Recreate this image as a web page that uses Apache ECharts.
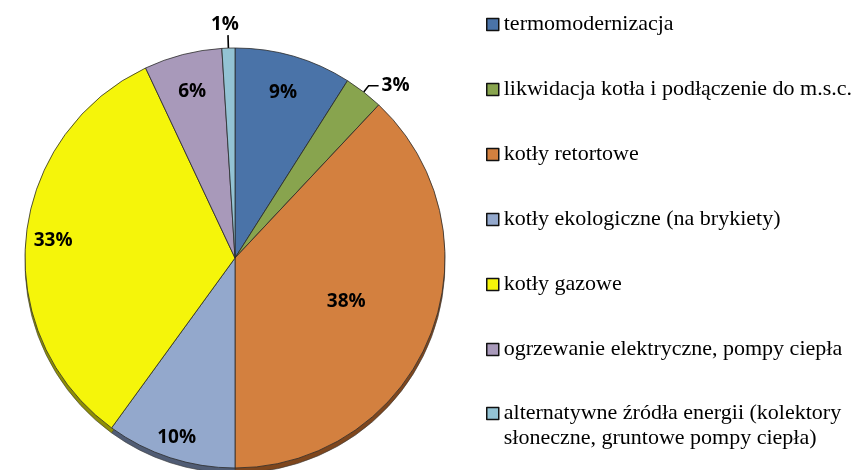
<!DOCTYPE html>
<html>
<head>
<meta charset="utf-8">
<script src="https://cdn.jsdelivr.net/npm/echarts@6/dist/echarts.min.js"></script>
<style>
html,body{margin:0;padding:0;background:#ffffff;}
#chart{width:866px;height:470px;}
</style>
</head>
<body>
<div id="chart"></div>
<script>
// ---- data ----
const categories = [
  'termomodernizacja',
  'likwidacja kotła i podłączenie do m.s.c.',
  'kotły retortowe',
  'kotły ekologiczne (na brykiety)',
  'kotły gazowe',
  'ogrzewanie elektryczne, pompy ciepła',
  'alternatywne źródła energii (kolektory\nsłoneczne, gruntowe pompy ciepła)'
];
const values = [9, 3, 38, 10, 33, 6, 1];

// ---- style ----
const colors = ['#4a73a8', '#88a44e', '#d3803f', '#93a8cc', '#f5f50a', '#a899ba', '#93c3d4'];
const rimColors = ['#2f4a6e', '#56692f', '#7e461d', '#505c74', '#8e8e06', '#6a5f7c', '#577c8a'];
const labelPlacement = ['inside', 'outside', 'inside', 'inside', 'inside', 'inside', 'outside'];
const labelRadius = [0.82, null, 0.57, 0.9, 0.87, 0.82, null]; // fraction of radius for inside labels
const CX = 235, CY = 258, R = 210, RIM = 5;
const SERIF = 'Liberation Serif';
const SANS = 'Open Sans';

const chart = echarts.init(document.getElementById('chart'), null, { renderer: 'canvas' });

const seriesData = categories.map(function (name, i) {
  const outside = labelPlacement[i] === 'outside';
  return {
    name: name,
    value: values[i],
    itemStyle: { color: colors[i] },
    label: { position: labelPlacement[i] },
    labelLine: outside
      ? { show: true, length: i === 6 ? 13 : 8, length2: i === 6 ? 0 : 10 }
      : { show: false }
  };
});

const rimData = categories.map(function (name, i) {
  return { name: name, value: values[i], itemStyle: { color: rimColors[i] } };
});

const legendBase = {
  orient: 'vertical',
  left: 486,
  padding: 0,
  itemWidth: 12,
  itemHeight: 12,
  itemGap: 40,
  icon: 'rect',
  selectedMode: false,
  itemStyle: { borderColor: '#111111', borderWidth: 1.5 },
  textStyle: {
    fontFamily: SERIF,
    fontSize: 22,
    lineHeight: 25,
    color: '#000000'
  }
};

const singleLine = categories.filter(function (n) { return n.indexOf('\n') < 0; });
const multiLine = categories.filter(function (n) { return n.indexOf('\n') >= 0; });

chart.setOption({
  animation: false,
  backgroundColor: '#ffffff',
  textStyle: { fontFamily: SERIF },
  legend: [
    Object.assign({}, legendBase, { top: 12, height: 460, data: singleLine }),
    Object.assign({}, legendBase, {
      top: 376, height: 100, data: multiLine,
      // an empty first line keeps the icon beside the entry's first text line
      formatter: function (name) { return '\n' + name; }
    })
  ],
  series: [{
    type: 'pie',
    z: 3,
    center: [CX, CY],
    radius: [0, R],
    startAngle: 90,
    clockwise: true,
    avoidLabelOverlap: false,
    emphasis: { disabled: true },
    itemStyle: { borderColor: '#2b2b2b', borderWidth: 0.8 },
    label: {
      show: true,
      color: '#000000',
      fontFamily: SANS,
      fontWeight: 'bold',
      fontSize: 19,
      distanceToLabelLine: 3,
      formatter: function (p) { return Math.round(p.percent) + '%'; }
    },
    labelLine: {
      lineStyle: { color: '#000000', width: 1.6 }
    },
    labelLayout: function (p) {
      const k = labelRadius[p.dataIndex];
      const r = p.labelRect;
      if (k != null) {
        const lx = r.x + r.width / 2, ly = r.y + r.height / 2;
        const dx = lx - CX, dy = ly - CY;
        const d = Math.sqrt(dx * dx + dy * dy) || 1;
        return { x: CX + dx / d * k * R, y: CY + dy / d * k * R };
      }
      if (p.dataIndex === 6 && p.labelLinePoints) {
        const pts = p.labelLinePoints;
        const e = pts[pts.length - 1];
        return {
          x: e[0] - 3, y: e[1] - 1,
          align: 'center', verticalAlign: 'bottom',
          labelLinePoints: pts
        };
      }
      return {};
    },
    data: seriesData
  }, {
    // darker copy drawn underneath and shifted down: the pie's 3D rim
    type: 'pie',
    z: 1,
    silent: true,
    center: [CX, CY + RIM],
    radius: [0, R],
    startAngle: 90,
    clockwise: true,
    emphasis: { disabled: true },
    itemStyle: { borderColor: '#3a3a3a', borderWidth: 0.6 },
    label: { show: false },
    labelLine: { show: false },
    data: rimData
  }]
});
</script>
</body>
</html>
